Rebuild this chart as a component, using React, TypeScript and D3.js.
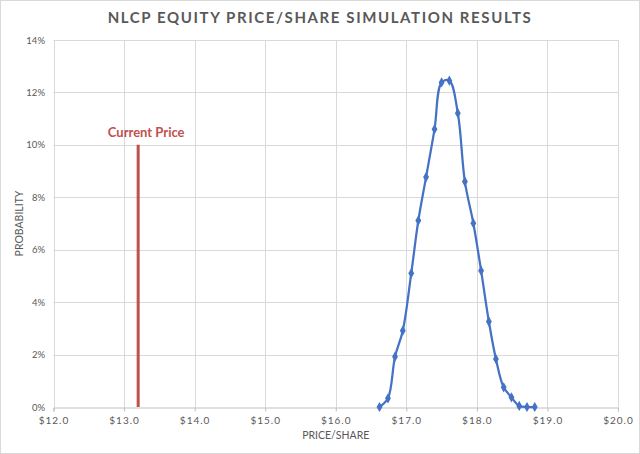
import { useEffect, useRef } from 'react';
import * as d3 from 'd3';

// simulated price/share distribution
const prices = [16.62, 16.74, 16.84, 16.95, 17.07, 17.17, 17.28, 17.4, 17.5, 17.61, 17.73, 17.83, 17.95, 18.06, 18.17, 18.27, 18.38, 18.49, 18.6, 18.71, 18.82];
const probs = [0.0, 0.0033, 0.0192, 0.0291, 0.051, 0.0711, 0.0877, 0.106, 0.1238, 0.1245, 0.1121, 0.086, 0.0701, 0.052, 0.0326, 0.0183, 0.0075, 0.0037, 0.0004, 0.0, 0.0];
const xTicks = [12, 13, 14, 15, 16, 17, 18, 19, 20];
const yTicks = [0, 0.02, 0.04, 0.06, 0.08, 0.1, 0.12, 0.14];
const currentPrice = 13.2;
const currentLineTop = 0.1;

const W = 640;
const H = 454;
const FONT = 'Lato, "Open Sans", sans-serif';

export default function App() {
  const svgRef = useRef<SVGSVGElement>(null);

  useEffect(() => {
    document.body.style.margin = '0';
    if (!svgRef.current) return;
    const svg = d3.select(svgRef.current);
    svg.selectAll('*').remove();

    const margin = { top: 40, right: 22, bottom: 47, left: 53.5 };
    const x = d3.scaleLinear().domain([12, 20]).range([margin.left, W - margin.right]);
    const y = d3.scaleLinear().domain([0, 0.14]).range([H - margin.bottom, margin.top]);

    // chart frame
    svg.append('rect')
      .attr('x', 0.5).attr('y', 0.5)
      .attr('width', W - 1).attr('height', H - 1)
      .attr('fill', '#fff').attr('stroke', '#d9d9d9');

    // title
    svg.append('text')
      .attr('x', W / 2).attr('y', 23)
      .attr('text-anchor', 'middle')
      .attr('font-family', FONT)
      .attr('font-size', 15)
      .attr('font-weight', 'bold')
      .attr('letter-spacing', 1.6)
      .attr('fill', '#595959')
      .text('NLCP EQUITY PRICE/SHARE SIMULATION RESULTS');

    // gridlines
    const grid = svg.append('g').attr('stroke', '#d9d9d9').attr('stroke-width', 1);
    grid.selectAll('line.h').data(yTicks.slice(1)).join('line')
      .attr('x1', x(12)).attr('x2', x(20))
      .attr('y1', d => Math.round(y(d)) + 0.5).attr('y2', d => Math.round(y(d)) + 0.5);
    grid.selectAll('line.v').data(xTicks).join('line')
      .attr('y1', y(0)).attr('y2', y(0.14))
      .attr('x1', d => Math.round(x(d)) + 0.5).attr('x2', d => Math.round(x(d)) + 0.5);

    // x axis
    const xAxis = svg.append('g')
      .attr('transform', `translate(0,${Math.round(y(0)) + 0.5})`)
      .call(d3.axisBottom(x).tickValues(xTicks).tickSize(4).tickFormat(d => `$${(+d).toFixed(1)}`));
    xAxis.select('.domain').attr('stroke', '#bfbfbf');
    xAxis.selectAll('.tick line').attr('stroke', '#bfbfbf');
    xAxis.selectAll('.tick text')
      .attr('fill', '#595959').attr('font-family', FONT).attr('font-size', 10)
      .attr('letter-spacing', 1).attr('dy', '0.9em');

    // y axis labels
    svg.append('g').selectAll('text').data(yTicks).join('text')
      .attr('x', 45).attr('y', d => y(d) + 3.5)
      .attr('text-anchor', 'end')
      .attr('font-family', FONT).attr('font-size', 9.5)
      .attr('fill', '#595959')
      .text(d => `${Math.round(d * 100)}%`);

    // axis titles
    svg.append('text')
      .attr('x', (x(12) + x(20)) / 2).attr('y', 439)
      .attr('text-anchor', 'middle')
      .attr('font-family', FONT).attr('font-size', 10.5)
      .attr('fill', '#595959')
      .text('PRICE/SHARE');
    svg.append('text')
      .attr('transform', `translate(23,${(y(0) + y(0.14)) / 2}) rotate(-90)`)
      .attr('text-anchor', 'middle')
      .attr('font-family', FONT).attr('font-size', 10.5)
      .attr('fill', '#595959')
      .text('PROBABILITY');

    // current price marker
    svg.append('line')
      .attr('x1', x(currentPrice)).attr('x2', x(currentPrice))
      .attr('y1', y(0)).attr('y2', y(currentLineTop))
      .attr('stroke', '#c0504d').attr('stroke-width', 3);
    svg.append('text')
      .attr('x', x(currentPrice) + 8).attr('y', y(currentLineTop) - 8)
      .attr('text-anchor', 'middle')
      .attr('font-family', FONT).attr('font-size', 13).attr('font-weight', 'bold')
      .attr('fill', '#c0504d')
      .text('Current Price');

    // distribution curve
    const pts = prices.map((p, i) => [p, probs[i]] as [number, number]);
    const line = d3.line<[number, number]>()
      .x(d => x(d[0])).y(d => y(d[1]))
      .curve(d3.curveCatmullRom.alpha(0.5));
    svg.append('path')
      .datum(pts)
      .attr('fill', 'none')
      .attr('stroke', '#4472c4')
      .attr('stroke-width', 2.25)
      .attr('d', line);

    const diamond = d3.symbol().type(d3.symbolDiamond).size(30);
    svg.append('g').selectAll('path').data(pts).join('path')
      .attr('transform', d => `translate(${x(d[0])},${y(d[1])})`)
      .attr('d', diamond)
      .attr('fill', '#4472c4');
  }, []);

  return <svg ref={svgRef} width={W} height={H} style={{ display: 'block' }} />;
}
